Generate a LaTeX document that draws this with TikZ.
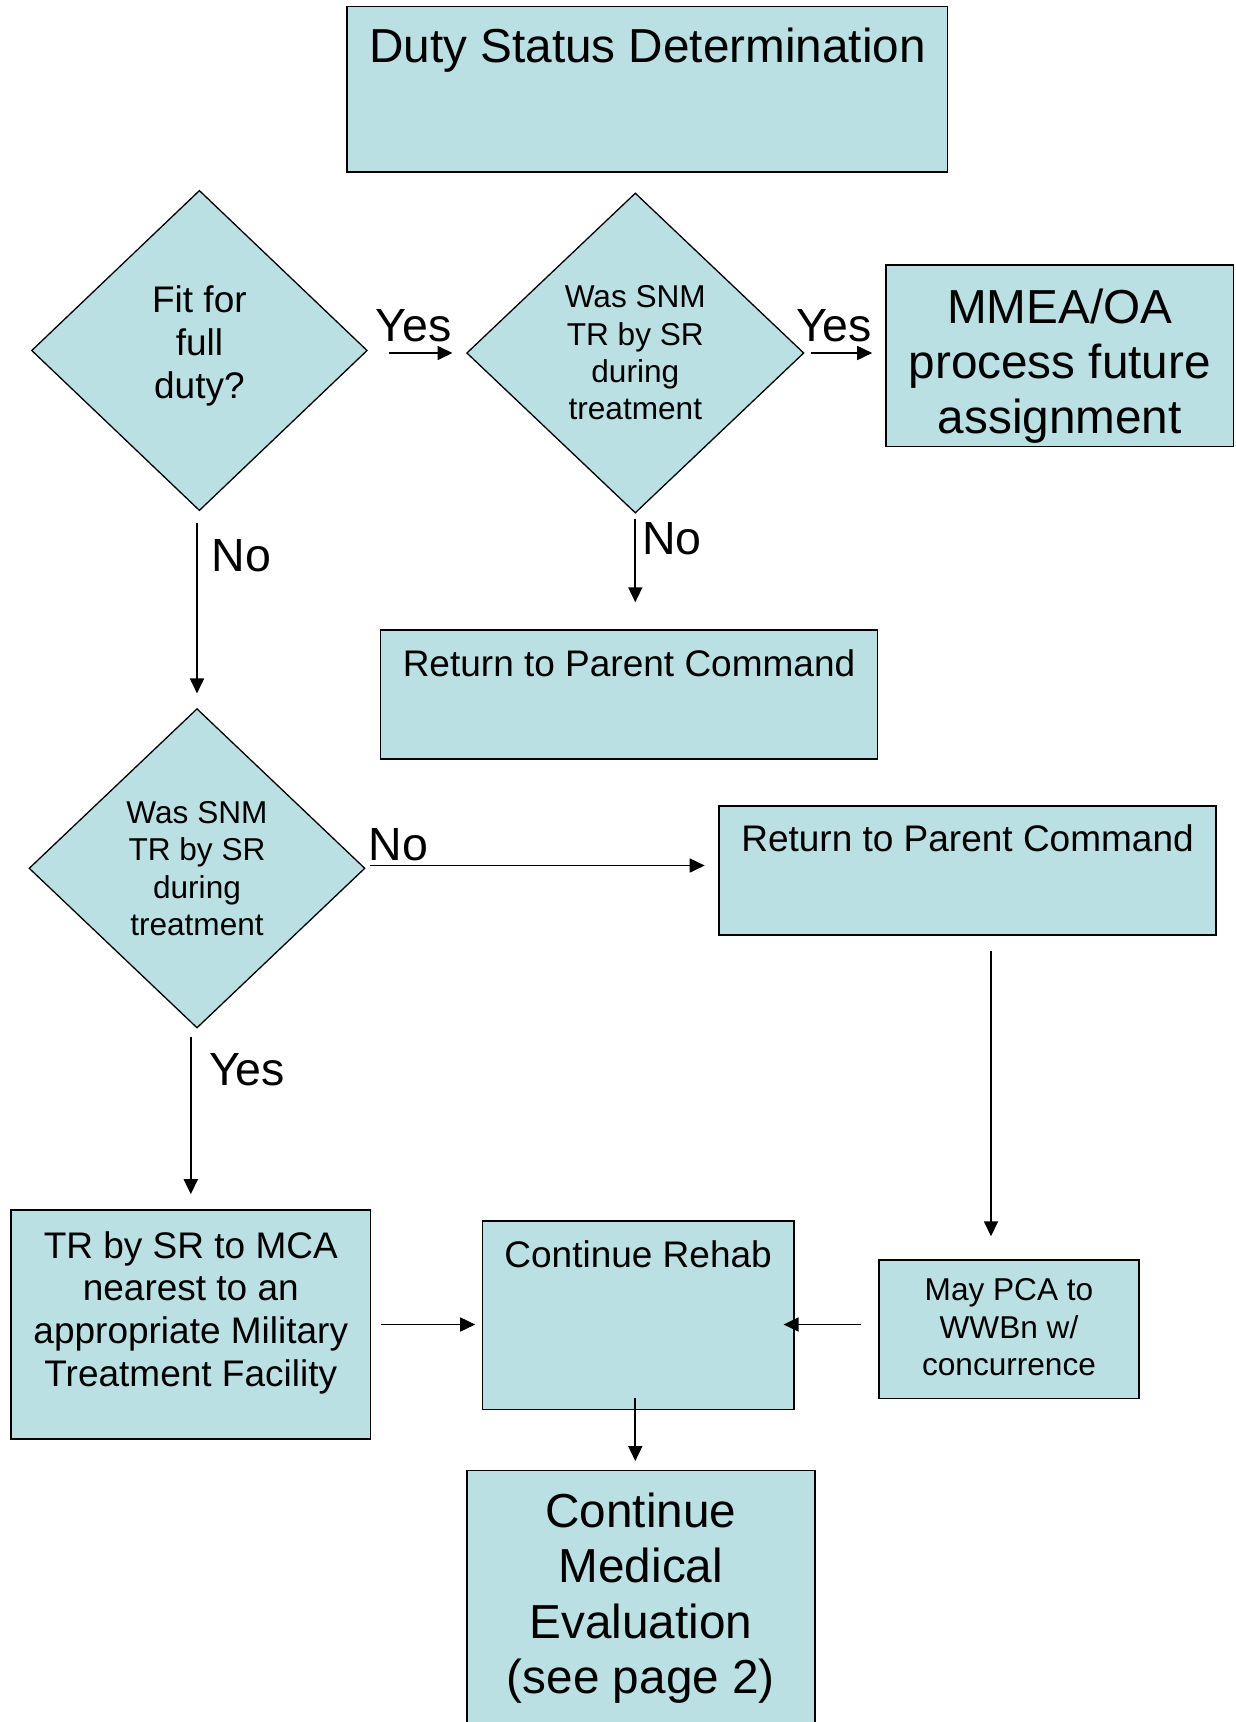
\documentclass[tikz,border=0pt]{standalone}
\usepackage{fontspec}
\setmainfont{Liberation Sans}
\usetikzlibrary{shapes.geometric,arrows.meta}
\definecolor{boxfill}{RGB}{187,224,227}
\begin{document}
\begin{tikzpicture}[x=1pt,y=-1pt,
  box/.style={draw=black, fill=boxfill, line width=1.6pt, rectangle, inner sep=0pt},
  dia/.style={draw=black, fill=boxfill, line width=1.3pt, diamond, inner sep=0pt},
  txt/.style={inner sep=0pt, align=center},
  big/.style={font=\fontsize{47.7}{55.3}\selectfont},
  mid/.style={font=\fontsize{37}{42.9}\selectfont},
  small/.style={font=\fontsize{31.6}{37.4}\selectfont},
  lab/.style={inner sep=0pt, anchor=base, font=\fontsize{46.5}{50}\selectfont},
  arr/.style={line width=1.7pt, -{Triangle[length=15pt,width=14pt]}}]
\useasboundingbox (0,0) rectangle (1236,1722);
\clip (0,0) rectangle (1236,1722);

% shapes
\node[box, minimum width=600.7pt, minimum height=165.6pt] (title) at (647.2,89.2) {};
\node[dia, minimum width=335.8pt, minimum height=320.3pt] (d1) at (199.4,350.5) {};
\node[dia, minimum width=337.3pt, minimum height=320.1pt] (d2) at (635.3,353) {};
\node[box, minimum width=347.6pt, minimum height=181.4pt] (mmea) at (1059.8,355.7) {};
\node[box, minimum width=496.7pt, minimum height=128.7pt] (ret1) at (629,694.4) {};
\node[dia, minimum width=336pt, minimum height=319.4pt] (d3) at (197,868.3) {};
\node[box, minimum width=497pt, minimum height=128.7pt] (ret2) at (967.5,870.4) {};
\node[box, minimum width=359.5pt, minimum height=229pt] (tr) at (190.8,1324.5) {};
\node[box, minimum width=311.4pt, minimum height=188.4pt] (rehab) at (638.1,1315.2) {};
\node[box, minimum width=260pt, minimum height=138.3pt] (pca) at (1009,1329.2) {};
\node[box, minimum width=348.3pt, minimum height=289.5pt] (med) at (640.9,1615.3) {};

% texts
\node[txt, big, anchor=base] (ttitle) at (647.5,62) {Duty Status Determination};
\node[txt, mid, anchor=north] (td1) at (199.4,285.5) {Fit for\\full\\duty?};
\node[txt, small, anchor=north] (td2) at (635.3,285.5) {Was SNM\\TR by SR\\during\\treatment};
\node[txt, big, anchor=north] (tmmea) at (1059.8,288.5) {MMEA/OA\\process future\\assignment};
\node[txt, mid, anchor=base] (tret1) at (629,676.5) {Return to Parent Command};
\node[txt, small, anchor=north] (td3) at (197,801) {Was SNM\\TR by SR\\during\\treatment};
\node[txt, mid, anchor=base] (tret2) at (967.5,851.5) {Return to Parent Command};
\node[txt, mid, anchor=north] (ttr) at (190.8,1231) {TR by SR to MCA\\nearest to an\\appropriate Military\\Treatment Facility};
\node[txt, mid, anchor=base] (trehab) at (638.1,1267) {Continue Rehab};
\node[txt, small, anchor=north] (tpca) at (1009,1278.5) {May PCA to\\WWBn w/\\concurrence};
\node[txt, big, anchor=north] (tmed) at (640.9,1492.7) {Continue\\Medical\\Evaluation\\(see page 2)};

% labels
\node[lab] (yes1) at (413.5,341) {Yes};
\node[lab] (yes2) at (834,341) {Yes};
\node[lab] (no1) at (241.6,571) {No};
\node[lab] (no2) at (672,554) {No};
\node[lab] (no3) at (398.5,860) {No};
\node[lab] (yes3) at (247,1085.5) {Yes};

% connectors
\draw[arr, shorten <=21pt, shorten >=13.5pt] (d1.east |- d2.west) -- (d2.west);
\draw[arr, shorten <=6pt, shorten >=13pt] (d2.east) -- (d2.east -| mmea.west);
\draw[arr, shorten <=5.5pt, shorten >=27pt] (d2.south) -- (d2.south |- ret1.north);
\draw[arr, shorten <=12pt, shorten >=14.5pt] (d3.north |- d1.south) -- (d3.north);
\draw[arr, shorten <=4pt, shorten >=13.5pt] ([yshift=2.8pt]d3.east) -- ([yshift=2.8pt]d3.east -| ret2.west);
\draw[arr, shorten <=8pt, shorten >=15pt] (tr.north |- d3.south) -- (tr.north);
\draw[arr, shorten <=15pt, shorten >=23pt] ([xshift=23.5pt]ret2.south) -- ([xshift=23.5pt]ret2.south |- pca.north);
\draw[arr, shorten <=10pt, shorten >=6.4pt] (tr.east) -- (tr.east -| rehab.west);
\draw[arr, shorten <=17.4pt, shorten >=-11pt] (pca.west |- tr.east) -- (rehab.east |- tr.east);
\draw[arr, shorten <=-12pt, shorten >=8.7pt] ([xshift=-2.8pt]rehab.south) -- ([xshift=-2.8pt]rehab.south |- med.north);
\end{tikzpicture}
\end{document}
